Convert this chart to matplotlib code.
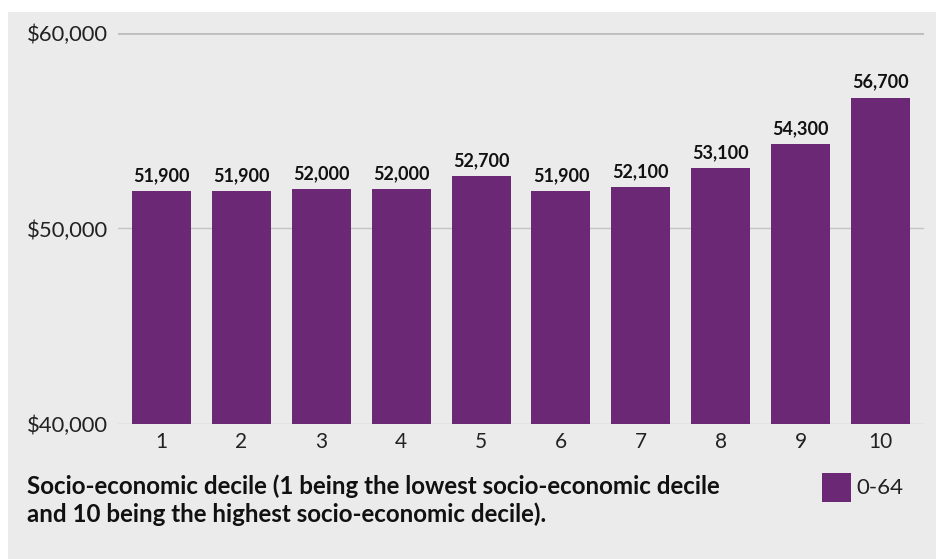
import matplotlib.pyplot as plt
from matplotlib.patches import Rectangle

deciles = [1, 2, 3, 4, 5, 6, 7, 8, 9, 10]
income = [51900, 51900, 52000, 52000, 52700, 51900, 52100, 53100, 54300, 56700]
yticks = [40000, 50000, 60000]
ytick_labels = ['$40,000', '$50,000', '$60,000']
series_name = '0-64'
caption = ('Socio-economic decile (1 being the lowest socio-economic decile\n'
           'and 10 being the highest socio-economic decile).')

BAR = '#6b2874'
BG = '#ebebeb'

plt.rcParams['font.family'] = ['Lato', 'DejaVu Sans']

fig = plt.figure(figsize=(9.36, 5.59), dpi=100)
fig.patch.set_facecolor('white')
# grey panel, leaving a thin white strip top and left
fig.patches.append(Rectangle((8 / 936, 0), 1, 1 - 12 / 559, transform=fig.transFigure,
                             facecolor=BG, edgecolor='none', zorder=-10))

ax = fig.add_axes([118 / 936, 1 - 424 / 559, (924 - 118) / 936, (424 - 33) / 559])
ax.set_facecolor('none')

bars = ax.bar(deciles, income, width=0.74, color=BAR, zorder=3)
for x, v in zip(deciles, income):
    ax.annotate(f'{v:,}', (x, v), xytext=(0, 5), textcoords='offset points',
                ha='center', va='bottom', fontsize=13, fontweight='bold', color='#111111')

ax.set_ylim(40000, 60000)
ax.set_xlim(0.455, 10.545)
ax.set_yticks(yticks)
ax.set_yticklabels(ytick_labels)
ax.set_xticks(deciles)
ax.set_xticklabels([str(d) for d in deciles])

for y in yticks:
    lw = 2.0 if y == 60000 else 1.0
    col = '#bdbdbd' if y == 60000 else '#c4c4c4'
    ax.axhline(y, color=col, lw=lw, zorder=1)

for s in ax.spines.values():
    s.set_visible(False)
ax.tick_params(axis='both', length=0, labelsize=15, colors='#222222')
ax.tick_params(axis='y', pad=7, labelsize=15.8)
ax.tick_params(axis='x', pad=6)

fig.text(27 / 936, 1 - 500 / 559, caption, fontsize=17.4, fontweight='bold',
         ha='left', va='center', linespacing=1.2, color='#111111')

fig.patches.append(Rectangle((822 / 936, 1 - 502 / 559), 29 / 936, 29 / 559,
                             transform=fig.transFigure, facecolor=BAR, edgecolor='none'))
fig.text(856 / 936, 1 - 488 / 559, series_name, fontsize=16, ha='left', va='center',
         color='#222222')

fig.savefig('out.png', dpi=100, facecolor=fig.get_facecolor())
